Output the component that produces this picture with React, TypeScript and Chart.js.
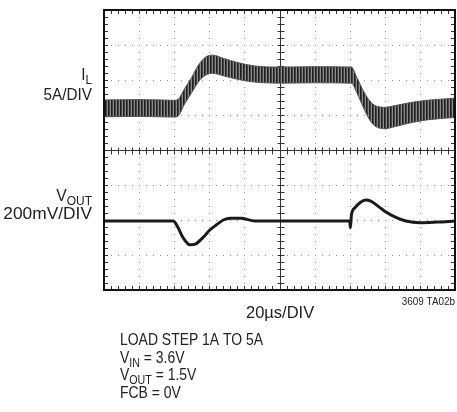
import React, { useEffect, useRef } from "react";
import { Chart, registerables } from "chart.js";

Chart.register(...registerables);

// Time in divisions (20µs/DIV), values in divisions from screen center
const IL_TIME = [0, 1, 2.0, 2.1, 2.3, 2.5, 2.7, 2.9, 3.1, 3.4, 3.8, 4.3, 5, 6, 7.05, 7.2, 7.4, 7.6, 7.8, 8.0, 8.3, 8.7, 9.2, 10];
const IL_UPPER = [1.43, 1.44, 1.42, 1.44, 1.76, 2.08, 2.44, 2.66, 2.71, 2.62, 2.5, 2.4, 2.37, 2.38, 2.37, 2.08, 1.67, 1.37, 1.24, 1.22, 1.27, 1.35, 1.42, 1.48];
const IL_LOWER = [0.95, 0.96, 0.94, 0.96, 1.32, 1.64, 1.96, 2.14, 2.19, 2.12, 2.02, 1.94, 1.91, 1.92, 1.91, 1.64, 1.19, 0.81, 0.64, 0.61, 0.67, 0.77, 0.86, 0.93];

const VOUT_TIME = [0, 1.97, 2.1, 2.25, 2.45, 2.6, 2.83, 3.0, 3.2, 3.4, 3.6, 3.9, 4.3, 7.0, 7.02, 7.05, 7.15, 7.3, 7.45, 7.6, 7.8, 8.0, 8.3, 8.6, 9.0, 9.5, 10];
const VOUT_VAL = [-2.03, -2.03, -2.2, -2.5, -2.71, -2.69, -2.49, -2.3, -2.14, -2.0, -1.95, -1.95, -2.03, -2.03, -2.22, -1.85, -1.65, -1.5, -1.43, -1.46, -1.6, -1.75, -1.92, -2.03, -2.08, -2.06, -2.03];

const X_DIVS = 10;
const Y_DIVS = 8;
const NOTES = ["LOAD STEP 1A TO 5A"];

const FONT = '"Liberation Sans", Arial, sans-serif';

function drawParts(ctx: CanvasRenderingContext2D, parts: [string, number, number][], x: number, y: number, align: "left" | "right", sx = 1) {
  // parts: [text, fontSize, baselineOffset]
  let total = 0;
  for (const [t, s] of parts) {
    ctx.font = `${s}px ${FONT}`;
    total += ctx.measureText(t).width;
  }
  ctx.save();
  ctx.translate(align === "right" ? x - total * sx : x, y);
  ctx.scale(sx, 1);
  ctx.textAlign = "left";
  ctx.textBaseline = "alphabetic";
  let cx = 0;
  for (const [t, s, dy] of parts) {
    ctx.font = `${s}px ${FONT}`;
    ctx.fillText(t, cx, dy);
    cx += ctx.measureText(t).width;
  }
  ctx.restore();
}

const scopePlugin = {
  id: "scope",
  beforeDatasetsDraw(chart: any) {
    const ctx: CanvasRenderingContext2D = chart.ctx;
    const xs = chart.scales.x;
    const ys = chart.scales.y;
    const { left, right, top, bottom } = chart.chartArea;
    ctx.save();
    // dotted grid
    ctx.fillStyle = "#8a8a8a";
    for (let i = 1; i < X_DIVS; i++) {
      if (i === X_DIVS / 2) continue;
      const px = Math.round(xs.getPixelForValue(i));
      for (let k = 1; k < Y_DIVS * 5; k++) {
        const py = Math.round(ys.getPixelForValue(-Y_DIVS / 2 + k / 5));
        ctx.fillRect(px, py, 1, 1);
      }
    }
    for (let j = 1; j < Y_DIVS; j++) {
      const v = -Y_DIVS / 2 + j;
      if (v === 0) continue;
      const py = Math.round(ys.getPixelForValue(v));
      for (let k = 1; k < X_DIVS * 5; k++) {
        const px = Math.round(xs.getPixelForValue(k / 5));
        ctx.fillRect(px, py, 1, 1);
      }
    }
    // center axes and border ticks
    ctx.strokeStyle = "#333";
    ctx.lineWidth = 1;
    const cx = Math.round(xs.getPixelForValue(X_DIVS / 2)) + 0.5;
    const cy = Math.round(ys.getPixelForValue(0)) + 0.5;
    ctx.beginPath();
    ctx.moveTo(cx, top);
    ctx.lineTo(cx, bottom);
    ctx.moveTo(left, cy);
    ctx.lineTo(right, cy);
    for (let k = 1; k < Y_DIVS * 5; k++) {
      const py = Math.round(ys.getPixelForValue(-Y_DIVS / 2 + k / 5)) + 0.5;
      ctx.moveTo(cx - 3, py);
      ctx.lineTo(cx + 4, py);
      ctx.moveTo(left, py);
      ctx.lineTo(left + 4, py);
      ctx.moveTo(right, py);
      ctx.lineTo(right - 4, py);
    }
    for (let k = 1; k < X_DIVS * 5; k++) {
      const px = Math.round(xs.getPixelForValue(k / 5)) + 0.5;
      ctx.moveTo(px, cy - 3);
      ctx.lineTo(px, cy + 4);
      ctx.moveTo(px, top);
      ctx.lineTo(px, top + 4);
      ctx.moveTo(px, bottom);
      ctx.lineTo(px, bottom - 4);
    }
    ctx.stroke();
    ctx.restore();
  },
  afterDatasetsDraw(chart: any) {
    const ctx: CanvasRenderingContext2D = chart.ctx;
    const { left, right, top, bottom } = chart.chartArea;
    ctx.save();
    ctx.strokeStyle = "#111";
    ctx.lineWidth = 2;
    ctx.strokeRect(left, top, right - left, bottom - top);
    ctx.fillStyle = "#222";
    // Y labels
    drawParts(ctx, [["I", 17, 0], ["L", 13, 4]], left - 12, 80, "right", 0.9);
    drawParts(ctx, [["5A/DIV", 17, 0]], left - 12, 100, "right", 0.9);
    drawParts(ctx, [["V", 17, 0], ["OUT", 13, 4]], left - 12, 201, "right", 0.92);
    drawParts(ctx, [["200mV/DIV", 17, 0]], left - 12, 219, "right", 1.02);
    // X label
    drawParts(ctx, [["20µs/DIV", 17, 0]], 246, 318, "left", 0.97);
    ctx.font = `11px ${FONT}`;
    drawParts(ctx, [["3609 TA02b", 11, 0]], right, 305, "right", 0.9);
    // notes
    const ns = 0.82;
    drawParts(ctx, [[NOTES[0], 17, 0]], 120, 345, "left", ns);
    drawParts(ctx, [["V", 17, 0], ["IN", 13, 4], [" = 3.6V", 17, 0]], 120, 363, "left", ns);
    drawParts(ctx, [["V", 17, 0], ["OUT", 13, 4], [" = 1.5V", 17, 0]], 120, 380, "left", ns);
    drawParts(ctx, [["FCB = 0V", 17, 0]], 120, 398, "left", ns);
    ctx.restore();
  },
};

export default function App() {
  const ref = useRef<HTMLCanvasElement | null>(null);
  useEffect(() => {
    const canvas = ref.current!;
    const pc = document.createElement("canvas");
    pc.width = 3;
    pc.height = 1;
    const pctx = pc.getContext("2d")!;
    pctx.fillStyle = "#1e1e1e";
    pctx.fillRect(0, 0, 1, 1);
    pctx.fillStyle = "#444";
    pctx.fillRect(1, 0, 1, 1);
    pctx.fillStyle = "#8c8c8c";
    pctx.fillRect(2, 0, 1, 1);
    const pattern = canvas.getContext("2d")!.createPattern(pc, "repeat");

    const chart = new Chart(canvas, {
      type: "line",
      data: {
        datasets: [
          {
            data: IL_TIME.map((t, i) => ({ x: t, y: IL_LOWER[i] })),
            borderColor: "#555",
            borderWidth: 1,
            pointRadius: 0,
            fill: false,
            cubicInterpolationMode: "monotone",
          },
          {
            data: IL_TIME.map((t, i) => ({ x: t, y: IL_UPPER[i] })),
            borderColor: "#555",
            borderWidth: 1,
            pointRadius: 0,
            fill: { target: "-1" },
            backgroundColor: pattern as any,
            cubicInterpolationMode: "monotone",
          },
          {
            data: VOUT_TIME.map((t, i) => ({ x: t, y: VOUT_VAL[i] })),
            borderColor: "#1a1a1a",
            borderWidth: 3,
            pointRadius: 0,
            fill: false,
            cubicInterpolationMode: "monotone",
          },
        ],
      },
      options: {
        animation: false,
        responsive: false,
        devicePixelRatio: 1,
        layout: { padding: { left: 104, right: 2, top: 10, bottom: 122 } },
        plugins: { legend: { display: false }, tooltip: { enabled: false } },
        scales: {
          x: { type: "linear", min: 0, max: X_DIVS, display: false },
          y: { type: "linear", min: -Y_DIVS / 2, max: Y_DIVS / 2, display: false },
        },
      },
      plugins: [scopePlugin],
    });
    return () => chart.destroy();
  }, []);
  return (
    <div style={{ position: "fixed", left: 0, top: 0, width: 457, height: 412, background: "#fff" }}>
      <canvas ref={ref} width={457} height={412} />
    </div>
  );
}
